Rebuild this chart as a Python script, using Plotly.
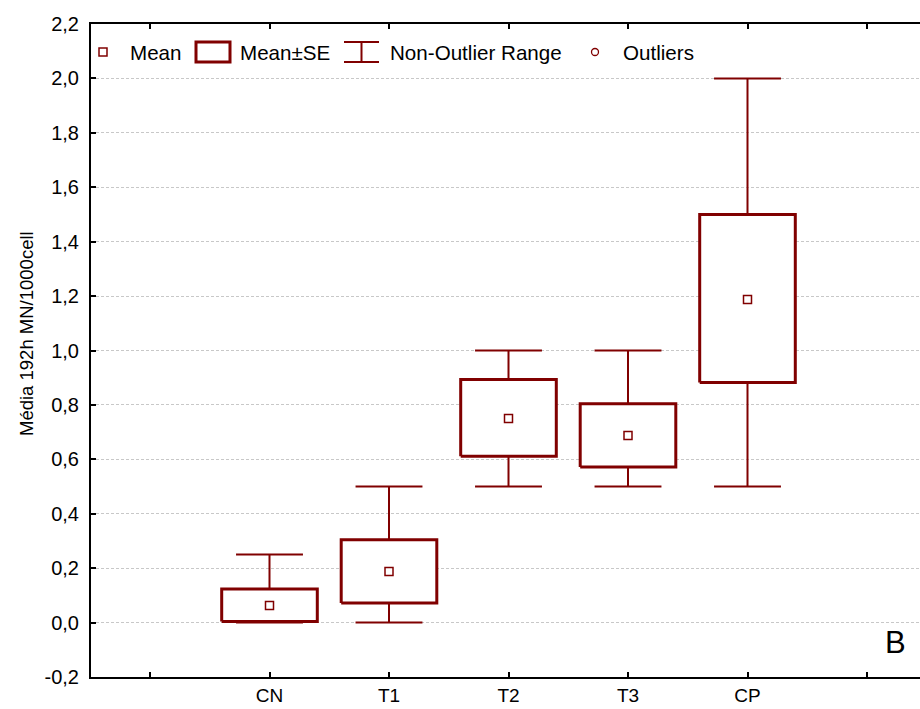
import plotly.graph_objects as go

# Group summary statistics (MN per 1000 cells after 192 h)
categories = ["CN", "T1", "T2", "T3", "CP"]
mean_vals = [0.0625, 0.1875, 0.75, 0.6875, 1.1875]
se_low = [0.004, 0.072, 0.611, 0.572, 0.882]
se_high = [0.123, 0.304, 0.893, 0.804, 1.5]
range_low = [0.0, 0.0, 0.5, 0.5, 0.5]
range_high = [0.25, 0.5, 1.0, 1.0, 2.0]
y_ticks = [-0.2, 0.0, 0.2, 0.4, 0.6, 0.8, 1.0, 1.2, 1.4, 1.6, 1.8, 2.0, 2.2]
y_tick_text = [f"{v:.1f}".replace(".", ",") for v in y_ticks]

RED = "#800000"
FONT = "Liberation Sans, Arial, sans-serif"
W, H = 920, 709
L, R, T, B = 91, 0, 24, 32
PW, PH = W - L - R, H - T - B

positions = list(range(1, len(categories) + 1))
BOX_HALF = 0.40
CAP_HALF = 0.28

fig = go.Figure()

# whiskers (non-outlier range) with caps
for x, lo, hi in zip(positions, range_low, range_high):
    fig.add_trace(go.Scatter(
        x=[x, x, None, x - CAP_HALF, x + CAP_HALF, None, x - CAP_HALF, x + CAP_HALF],
        y=[lo, hi, None, hi, hi, None, lo, lo],
        mode="lines", line=dict(color=RED, width=2),
        hoverinfo="skip", showlegend=False, connectgaps=False))

# mean ± SE boxes, white filled
for x, lo, hi in zip(positions, se_low, se_high):
    fig.add_trace(go.Scatter(
        x=[x - BOX_HALF, x + BOX_HALF, x + BOX_HALF, x - BOX_HALF, x - BOX_HALF],
        y=[lo, lo, hi, hi, lo],
        mode="lines", fill="toself", fillcolor="white",
        line=dict(color=RED, width=3),
        hoverinfo="skip", showlegend=False))

# means
fig.add_trace(go.Scatter(
    x=positions, y=mean_vals, mode="markers",
    marker=dict(symbol="square-open", size=8, color=RED, line=dict(width=1.5, color=RED)),
    showlegend=False))


def px(xp):
    return (xp - L) / PW


def py(yp):
    return (H - B - yp) / PH


shapes = []
annotations = []

# legend row drawn inside the plot area
LEG_Y = 52
shapes.append(dict(type="rect", xref="paper", yref="paper",
                   x0=px(99), x1=px(107), y0=py(56), y1=py(48),
                   line=dict(color=RED, width=1.5), fillcolor="white"))
shapes.append(dict(type="rect", xref="paper", yref="paper",
                   x0=px(196), x1=px(230), y0=py(62), y1=py(42),
                   line=dict(color=RED, width=3), fillcolor="white"))
for x0, y0, x1, y1 in [(344, 42, 379, 42), (344, 62, 379, 62), (361.5, 42, 361.5, 62)]:
    shapes.append(dict(type="line", xref="paper", yref="paper",
                       x0=px(x0), x1=px(x1), y0=py(y0), y1=py(y1),
                       line=dict(color=RED, width=2)))
shapes.append(dict(type="circle", xref="paper", yref="paper",
                   x0=px(591.5), x1=px(598.5), y0=py(55.5), y1=py(48.5),
                   line=dict(color=RED, width=1.3)))

for label, xl in [("Mean", 128), ("Mean±SE", 238), ("Non-Outlier Range", 388), ("Outliers", 621)]:
    annotations.append(dict(text=label, xref="paper", yref="paper",
                            x=px(xl), y=py(LEG_Y), xanchor="left", yanchor="middle",
                            showarrow=False, font=dict(family=FONT, size=20.6, color="black")))

# y axis title
annotations.append(dict(text="Média 192h MN/1000cell", xref="paper", yref="paper",
                        x=px(26), y=py(334), xanchor="center", yanchor="middle",
                        textangle=-90, showarrow=False,
                        font=dict(family=FONT, size=18.5, color="black")))

# panel letter
annotations.append(dict(text="B", xref="paper", yref="paper",
                        x=px(895), y=py(642), xanchor="center", yanchor="middle",
                        showarrow=False, bgcolor="white",
                        font=dict(family=FONT, size=31, color="black")))

fig.update_layout(
    width=W, height=H,
    margin=dict(l=L, r=R, t=T, b=B, pad=0),
    paper_bgcolor="white", plot_bgcolor="white",
    font=dict(family=FONT, size=20, color="black"),
    shapes=shapes, annotations=annotations,
    showlegend=False,
)

x_lo = -(150 - L) / 119.5
x_hi = x_lo + PW / 119.5
fig.update_xaxes(
    range=[x_lo, x_hi],
    tickvals=[0] + positions + [len(categories) + 1],
    ticktext=[""] + categories + [""],
    ticks="inside", ticklen=5, tickwidth=2, tickcolor="black",
    showline=True, linecolor="black", linewidth=2, mirror="ticks",
    showgrid=False, zeroline=False,
    tickfont=dict(family=FONT, size=19, color="black"),
)
fig.update_yaxes(
    range=[-0.2, 2.2],
    tickvals=y_ticks, ticktext=y_tick_text,
    ticks="inside", ticklen=5, tickwidth=2, tickcolor="black",
    ticklabelstandoff=6,
    showline=True, linecolor="black", linewidth=2,
    showgrid=True, gridcolor="#c8c8c8", gridwidth=1, griddash="3px,2px",
    zeroline=False,
    tickfont=dict(family=FONT, size=20, color="black"),
)

fig.write_html("out.html")
